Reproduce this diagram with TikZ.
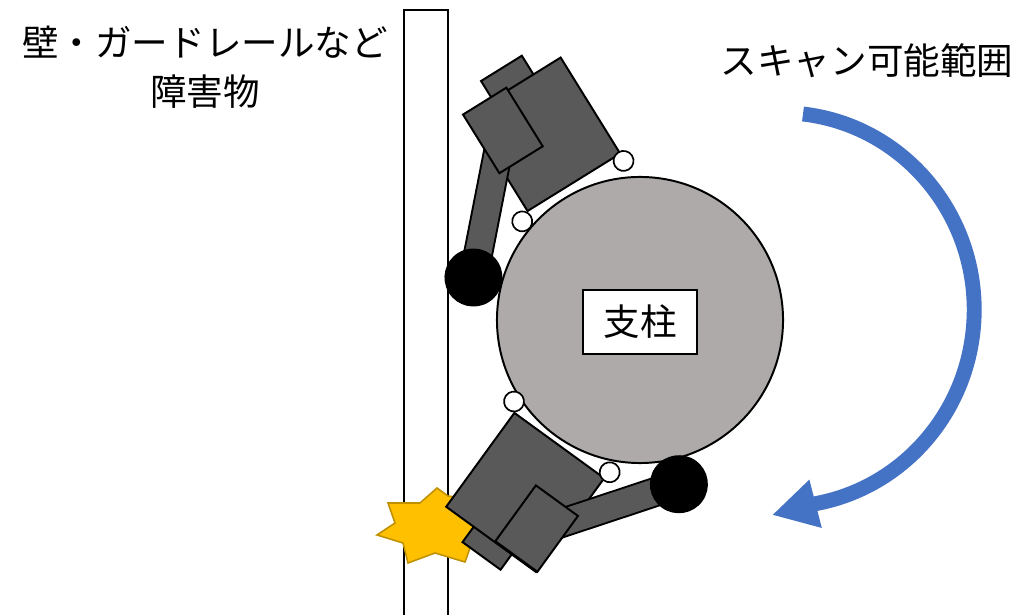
\documentclass[tikz,border=0pt]{standalone}
\usepackage{fontspec}
\newfontfamily\jpfont{Noto Sans CJK JP}
\usetikzlibrary{arrows.meta}

\definecolor{robotgray}{RGB}{89,89,89}
\definecolor{polegray}{RGB}{174,170,170}
\definecolor{scanblue}{RGB}{68,114,196}
\definecolor{stargold}{RGB}{255,192,0}
\definecolor{starline}{RGB}{191,144,0}

\begin{document}
\begin{tikzpicture}[
    x=0.025cm, y=-0.025cm,
    font=\jpfont\fontsize{26pt}{35pt}\selectfont,
    outline/.style={draw=black, line width=1.4pt},
    wall/.style={outline, fill=white},
    part/.style={outline, fill=robotgray},
    arm/.style={line width=1.4pt, double=robotgray, double distance=18.5pt},
    wheel/.style={draw=black, line width=1.2pt, fill=white},
    ball/.style={fill=black},
    crash/.style={draw=starline, line width=1.1pt, fill=stargold, line join=miter},
    tag/.style={outline, fill=white, minimum width=2.85cm, minimum height=1.6cm, inner sep=0pt},
    sweep/.style={draw=scanblue, line width=10.6pt, -{Triangle[length=32pt, width=33pt]}}
]
    \useasboundingbox (0,0) rectangle (1031,615);

    % --- 壁と支柱 ---
    \draw[wall] (404,10) rectangle (448,630);
    \node[circle, outline, fill=polegray, minimum size=7.15cm, inner sep=0pt] (pole) at (640,320) {};
    \node[tag] (poleTag) at (640,322) {支柱};

    % --- ラベル ---
    \node[align=center] (wallText) at (205,67) {壁・ガードレールなど\\障害物};
    \node (scanText) at (867,61) {スキャン可能範囲};

    % --- 衝突マーク ---
    \draw[crash] (437,488) -- (448,496) -- (478,500) -- (472,522) -- (492,540)
        -- (470,548) -- (465,562) -- (435,553) -- (408,563) -- (403,543)
        -- (377,535) -- (395,523) -- (388,503) -- (420,503) -- cycle;

    % --- 上のロボット ---
    \begin{scope}[shift={(468,115)}, rotate=31.8]
        \draw[part] (29,-22) rectangle (77,12);
        \draw[part] (0,0) rectangle (109,113);
        \draw[arm] (-81,141) -- (10,43);
        \draw[part] (-4,-3) rectangle (47,66);
        \fill[ball] (-81,141) circle (0.725cm);
        \draw[wheel] (-10,119) circle (0.25cm);
        \draw[wheel] (108,121) circle (0.25cm);
    \end{scope}

    % --- 下のロボット ---
    \begin{scope}[shift={(536,572)}, rotate=144]
        \draw[part] (30,-19) rectangle (77,12);
        \draw[part] (0,0) rectangle (111,116);
        \draw[arm] (-64,155) -- (15,45);
        \draw[part] (-1,1) rectangle (51,70);
        \fill[ball] (-64,155) circle (0.725cm);
        \draw[wheel] (-1,124) circle (0.25cm);
        \draw[wheel] (118,125) circle (0.25cm);
    \end{scope}

    % --- スキャン方向の矢印 ---
    \coordinate (sweepStart) at (803,114);
    \coordinate (sweepTip) at (772,515);
    \draw[sweep] (sweepStart) arc[start angle=83.5, end angle=-79.25,
        x radius=4.825cm, y radius=4.925cm] -- (sweepTip);

\end{tikzpicture}
\end{document}
